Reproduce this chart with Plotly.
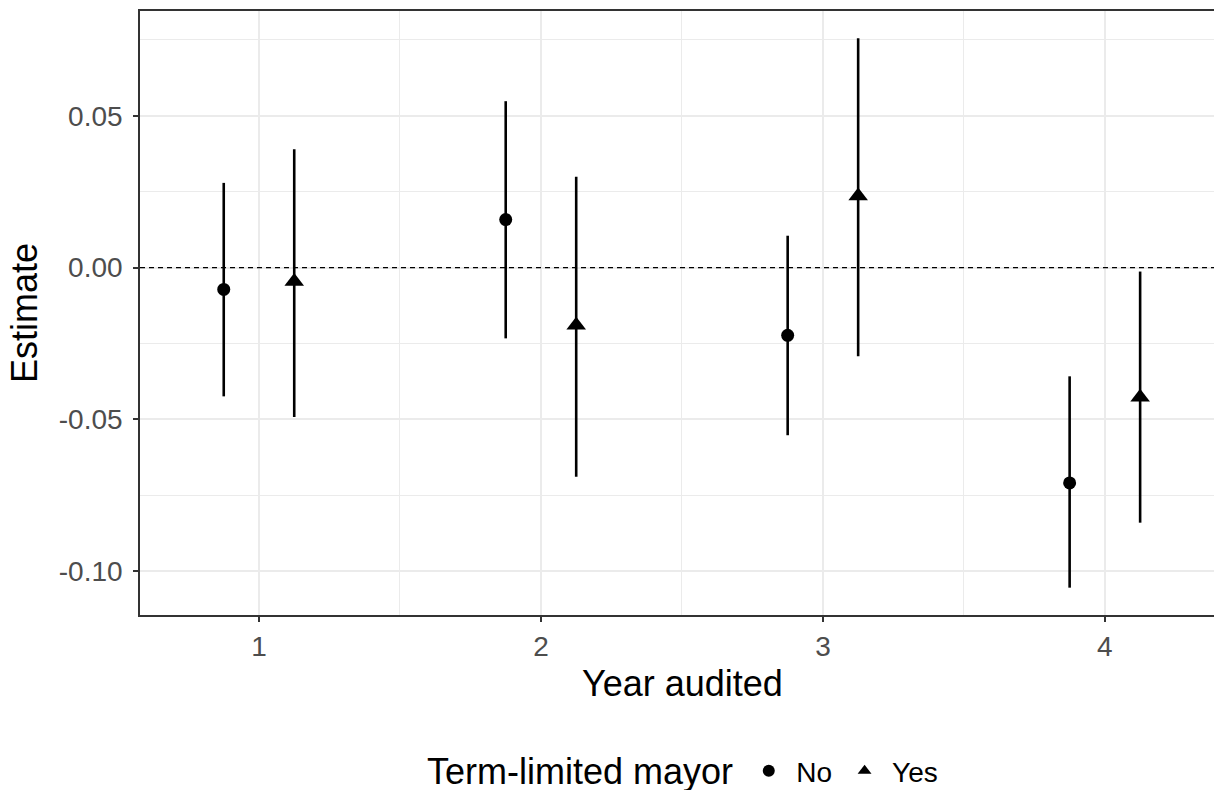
import plotly.graph_objects as go

# Data
years = [1, 2, 3, 4]
dodge = 0.125
no_est = [-0.0072, 0.0158, -0.0223, -0.0709]
no_lo = [-0.0424, -0.0233, -0.0552, -0.1054]
no_hi = [0.0279, 0.0548, 0.0105, -0.0358]
yes_est = [-0.0046, -0.0190, 0.0236, -0.0427]
yes_lo = [-0.0492, -0.0689, -0.0292, -0.0840]
yes_hi = [0.0390, 0.0299, 0.0755, -0.0013]
y_tickvals = [-0.10, -0.05, 0.00, 0.05]
y_ticktext = ["-0.10", "-0.05", "0.00", "0.05"]
x_tickvals = [1, 2, 3, 4]
x_ticktext = ["1", "2", "3", "4"]

FONT = "Liberation Sans, Arial, sans-serif"

fig = go.Figure()

def add_series(name, offset, est, lo, hi, symbol, size):
    xs = [y + offset for y in years]
    fig.add_trace(go.Scatter(
        x=xs, y=est, mode="markers", name=name,
        marker=dict(symbol=symbol, size=size, color="black"),
        error_y=dict(type="data", symmetric=False,
                     array=[h - e for h, e in zip(hi, est)],
                     arrayminus=[e - l for e, l in zip(est, lo)],
                     color="black", thickness=2.6, width=0),
    ))

add_series("No", -dodge, no_est, no_lo, no_hi, "circle", 13)
add_series("Yes", dodge, yes_est, yes_lo, yes_hi, "triangle-up", 17)

fig.add_shape(type="line", xref="paper", yref="y", x0=0, x1=1, y0=0, y1=0,
              line=dict(color="black", width=1.3, dash="5px,4px"), layer="above")

fig.add_annotation(text="Year audited", xref="paper", yref="paper",
                   x=0.5047, y=-0.114, xanchor="center", yanchor="middle",
                   showarrow=False, font=dict(size=36, color="black"))

# legend title as text, to place it exactly
fig.add_annotation(text="Term-limited mayor", xref="paper", yref="paper",
                   x=0.554, y=-0.2583, xanchor="right", yanchor="middle",
                   showarrow=False, font=dict(size=36, color="black"))

fig.update_layout(
    width=1214, height=790,
    margin=dict(l=140, r=0, t=11, b=175),
    paper_bgcolor="white", plot_bgcolor="white",
    font=dict(family=FONT, color="black"),
    showlegend=True,
    legend=dict(
        orientation="h", xref="container", yref="container",
        x=0.7770, xanchor="right", y=0.0240, yanchor="middle",
        font=dict(size=28, color="black"),
        itemsizing="constant", itemwidth=45,
    ),
    xaxis=dict(
        range=[0.578, 4.387], tickmode="array", tickvals=x_tickvals, ticktext=x_ticktext,
        showgrid=True, gridcolor="#EBEBEB", gridwidth=2.2,
        minor=dict(tickmode="array", tickvals=[0.5, 1.5, 2.5, 3.5, 4.5],
                   showgrid=True, gridcolor="#EBEBEB", gridwidth=1.2),
        showline=True, linecolor="#333333", linewidth=1.6, mirror=True,
        ticks="outside", ticklen=5, tickwidth=2, tickcolor="#333333",
        ticklabelstandoff=1,
        tickfont=dict(size=28, color="#4D4D4D"),
        zeroline=False,
    ),
    yaxis=dict(
        range=[-0.1144, 0.0845], tickmode="array", tickvals=y_tickvals, ticktext=y_ticktext,
        showgrid=True, gridcolor="#EBEBEB", gridwidth=2.2,
        minor=dict(tickmode="array", tickvals=[-0.075, -0.025, 0.025, 0.075],
                   showgrid=True, gridcolor="#EBEBEB", gridwidth=1.2),
        showline=True, linecolor="#333333", linewidth=1.6, mirror=False,
        ticks="outside", ticklen=5, tickwidth=2, tickcolor="#333333",
        ticklabelstandoff=5,
        tickfont=dict(size=28, color="#4D4D4D"),
        title=dict(text="Estimate", font=dict(size=36, color="black"), standoff=10),
        zeroline=False,
    ),
)

fig.write_html(
    "out.html",
    config={"displayModeBar": False},
    post_script="document.body.style.margin='0';document.body.style.overflow='hidden';",
)
